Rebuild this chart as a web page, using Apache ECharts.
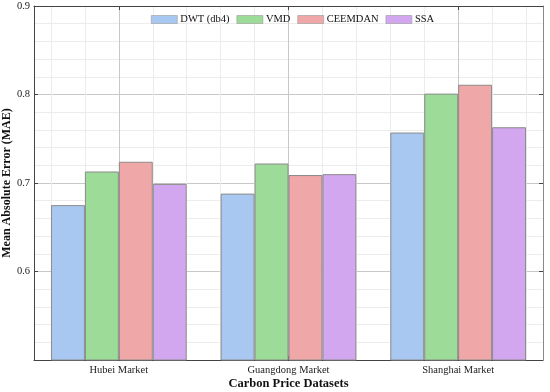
<!DOCTYPE html>
<html>
<head>
<meta charset="utf-8">
<script src="https://cdn.jsdelivr.net/npm/echarts@6/dist/echarts.min.js"></script>
<style>html,body{margin:0;padding:0;background:#fff;}#c{width:550px;height:392px;}</style>
</head>
<body>
<div id="c"></div>
<script>
var categories = ['Hubei Market', 'Guangdong Market', 'Shanghai Market'];
var seriesNames = ['DWT (db4)', 'VMD', 'CEEMDAN', 'SSA'];
var dwt = [0.675, 0.688, 0.757];
var vmd = [0.713, 0.722, 0.801];
var ceemdan = [0.724, 0.709, 0.811];
var ssa = [0.699, 0.710, 0.763];
var yTicks = [0.5, 0.9, 0.1];

var colors = ['#a8c8f1', '#9ddc98', '#f0a7a7', '#d3a7ef'];
var values = [dwt, vmd, ceemdan, ssa];
var font = 'Liberation Serif';

// helper slots for the vertical grid (minor every 1/5 category, major at category centres)
var minorSlots = [];
for (var k = 0; k < categories.length * 10; k++) minorSlots.push('m' + k);
var majorSlots = [];
for (var k2 = 0; k2 < categories.length * 2; k2++) majorSlots.push('M' + k2);
function oddOnly(i) { return i % 2 === 1; }

var chart = echarts.init(document.getElementById('c'));
var series = seriesNames.map(function (n, i) {
  return {
    name: n, type: 'bar', data: values[i],
    xAxisIndex: 0, yAxisIndex: 0,
    barGap: '0%', barCategoryGap: '20%',
    itemStyle: { color: colors[i], borderColor: '#8a8a8a', borderWidth: 1 }
  };
});
var gridAxisBase = {
  position: 'bottom', boundaryGap: true,
  axisLine: { show: false, onZero: false }, axisTick: { show: false }, axisLabel: { show: false }
};
chart.setOption({
  animation: false,
  backgroundColor: '#fff',
  textStyle: { fontFamily: font },
  grid: { left: 34, right: 7, top: 6, bottom: 32, containLabel: false, outerBoundsMode: 'none' },
  legend: {
    top: 14, left: 151, padding: 0,
    data: seriesNames, icon: 'rect',
    itemWidth: 26, itemHeight: 8, itemGap: 7,
    textStyle: { fontFamily: font, fontSize: 10.5, color: '#111', padding: [0, 0, 0, -2] },
    itemStyle: { borderWidth: 0.6, borderColor: '#9a9a9a' }
  },
  xAxis: [
    {
      type: 'category', data: categories, position: 'bottom',
      axisLine: { onZero: false, lineStyle: { color: '#444', width: 1 } },
      axisTick: { show: true, inside: true, alignWithLabel: true, length: 4, lineStyle: { color: '#444' } },
      axisLabel: { fontFamily: font, fontSize: 10.5, color: '#222', margin: 5 },
      splitLine: { show: false },
      name: 'Carbon Price Datasets', nameLocation: 'middle', nameGap: 17, nameMoveOverlap: false,
      nameTextStyle: { fontFamily: font, fontSize: 12.5, fontWeight: 'bold', color: '#111' }
    },
    {
      type: 'category', data: categories, position: 'top',
      axisLine: { onZero: false, lineStyle: { color: '#444', width: 1 } },
      axisTick: { show: true, inside: true, alignWithLabel: true, length: 4, lineStyle: { color: '#444' } },
      axisLabel: { show: false }, splitLine: { show: false }
    },
    Object.assign({}, gridAxisBase, {
      type: 'category', data: minorSlots,
      splitLine: { show: true, interval: oddOnly, lineStyle: { color: '#ececec', width: 1 } }
    }),
    Object.assign({}, gridAxisBase, {
      type: 'category', data: majorSlots,
      splitLine: { show: true, interval: oddOnly, lineStyle: { color: '#c8c8c8', width: 1 } }
    })
  ],
  yAxis: [
    {
      type: 'value', min: yTicks[0], max: yTicks[1], interval: yTicks[2], position: 'left',
      axisLine: { show: true, onZero: false, lineStyle: { color: '#444', width: 1 } },
      axisTick: { show: true, inside: true, length: 4, lineStyle: { color: '#444' } },
      axisLabel: {
        fontFamily: font, fontSize: 10.5, color: '#222', margin: 4,
        formatter: function (v) { return v === 0.5 ? '' : v.toFixed(1); }
      },
      splitLine: { show: true, lineStyle: { color: '#c8c8c8', width: 1 } },
      minorTick: { show: false, splitNumber: 5 },
      minorSplitLine: { show: true, lineStyle: { color: '#ececec', width: 1 } },
      name: 'Mean Absolute Error (MAE)', nameLocation: 'middle', nameGap: 21, nameMoveOverlap: false,
      nameTextStyle: { fontFamily: font, fontSize: 12, fontWeight: 'bold', color: '#111' }
    },
    {
      type: 'value', min: yTicks[0], max: yTicks[1], interval: yTicks[2], position: 'right',
      axisLine: { show: true, onZero: false, lineStyle: { color: '#888', width: 1 } },
      axisTick: { show: true, inside: true, length: 4, lineStyle: { color: '#444' } },
      axisLabel: { show: false }, splitLine: { show: false }
    }
  ],
  series: series
});
</script>
</body>
</html>
